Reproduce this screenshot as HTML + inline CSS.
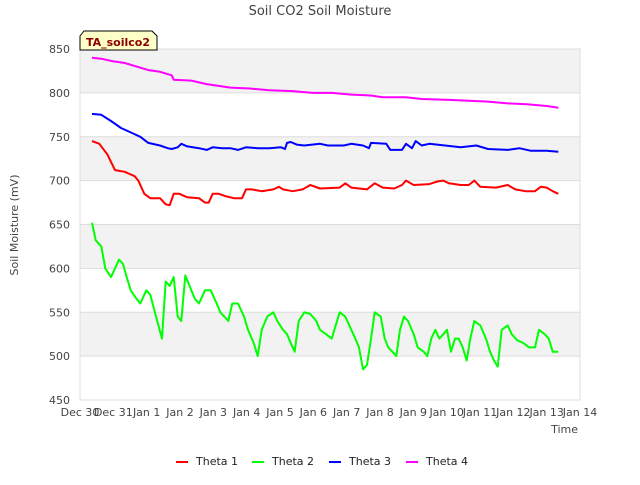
<!DOCTYPE html>
<html><head><meta charset="utf-8"><style>
body{margin:0;background:#fff;font-family:"Liberation Sans","DejaVu Sans",sans-serif;}
svg text{font-family:"DejaVu Sans","Liberation Sans",sans-serif;}
</style></head><body>
<svg id="chart" width="640" height="480" viewBox="0 0 640 480" xmlns="http://www.w3.org/2000/svg">
<rect width="640" height="480" fill="#fff"/>
<text x="320" y="15" text-anchor="middle" font-size="13" fill="#444">Soil CO2 Soil Moisture</text>
<g id="bands"></g>
<g id="grid"></g>
<rect x="80" y="49" width="500" height="351" fill="none" stroke="#ddd"/>
<g id="yticks"></g>
<g id="xticks"></g>
<g id="series"></g>
<text transform="translate(18,225) rotate(-90)" text-anchor="middle" font-size="11" fill="#444">Soil Moisture (mV)</text>
<text x="578" y="433" text-anchor="end" font-size="11" fill="#444">Time</text>
<g>
<path d="M84,31 L152,31 L157,36 L157,50 L80,50 L80,36 Z" fill="#ffffc8" stroke="#000" stroke-width="1"/>
<text x="118" y="46" text-anchor="middle" font-size="11" font-weight="bold" fill="#8b0000">TA_soilco2</text>
</g>
<g id="legend"></g>
</svg>
<script>
const yTicks=[450,500,550,600,650,700,750,800,850];
const xTickLabels=["Dec 30","Dec 31","Jan 1","Jan 2","Jan 3","Jan 4","Jan 5","Jan 6","Jan 7","Jan 8","Jan 9","Jan 10","Jan 11","Jan 12","Jan 13","Jan 14"];
const seriesNames=["Theta 1","Theta 2","Theta 3","Theta 4"];
const seriesColors=["#ff0000","#00ff00","#0000ff","#ff00ff"];
const theta1=[[0.36,745],[0.58,742],[0.82,730],[1.05,712],[1.34,710],[1.64,705],[1.75,700],[1.93,685],[2.11,680],[2.40,680],[2.57,673],[2.69,672],[2.81,685],[2.98,685],[3.22,681],[3.57,680],[3.75,675],[3.86,675],[3.98,685],[4.16,685],[4.39,682],[4.62,680],[4.86,680],[4.98,690],[5.15,690],[5.45,688],[5.80,690],[5.97,693],[6.09,690],[6.38,688],[6.68,690],[6.91,695],[7.20,691],[7.79,692],[7.96,697],[8.14,692],[8.61,690],[8.84,697],[9.08,692],[9.43,691],[9.66,695],[9.78,700],[10.01,695],[10.48,696],[10.72,699],[10.90,700],[11.07,697],[11.42,695],[11.66,695],[11.83,700],[12.01,693],[12.48,692],[12.83,695],[13.06,690],[13.36,688],[13.65,688],[13.82,693],[14.00,692],[14.18,688],[14.35,685]];
const theta2=[[0.36,652],[0.47,632],[0.64,625],[0.76,600],[0.93,590],[1.05,600],[1.17,610],[1.29,605],[1.40,590],[1.52,575],[1.70,565],[1.81,560],[1.99,575],[2.11,570],[2.28,545],[2.46,520],[2.57,585],[2.69,580],[2.81,590],[2.93,545],[3.04,540],[3.16,592],[3.34,575],[3.45,565],[3.57,560],[3.75,575],[3.92,575],[4.10,560],[4.21,550],[4.33,545],[4.45,540],[4.57,560],[4.74,560],[4.92,545],[5.04,530],[5.21,515],[5.33,500],[5.45,530],[5.62,545],[5.80,550],[5.92,540],[6.09,530],[6.21,525],[6.32,515],[6.44,505],[6.56,540],[6.73,550],[6.91,548],[7.09,540],[7.20,530],[7.38,525],[7.55,520],[7.67,535],[7.79,550],[7.96,545],[8.14,530],[8.26,520],[8.37,510],[8.49,485],[8.61,490],[8.73,520],[8.84,550],[9.02,545],[9.14,520],[9.25,510],[9.37,505],[9.49,500],[9.60,530],[9.72,545],[9.84,540],[10.01,525],[10.13,510],[10.31,505],[10.42,500],[10.54,520],[10.66,530],[10.78,520],[10.90,525],[11.01,530],[11.13,505],[11.25,520],[11.36,520],[11.48,510],[11.60,495],[11.71,520],[11.83,540],[12.01,535],[12.18,520],[12.30,505],[12.42,495],[12.53,488],[12.65,530],[12.83,535],[12.95,525],[13.12,518],[13.30,515],[13.47,510],[13.65,510],[13.77,530],[13.94,525],[14.06,520],[14.18,505],[14.35,505]];
const theta3=[[0.36,776],[0.64,775],[0.93,768],[1.23,760],[1.52,755],[1.81,750],[2.05,743],[2.40,740],[2.63,737],[2.75,736],[2.93,738],[3.04,742],[3.22,739],[3.57,737],[3.80,735],[3.98,738],[4.27,737],[4.51,737],[4.74,735],[4.98,738],[5.33,737],[5.68,737],[6.03,738],[6.15,736],[6.21,743],[6.32,744],[6.50,741],[6.73,740],[7.20,742],[7.44,740],[7.91,740],[8.14,742],[8.49,740],[8.67,737],[8.73,743],[9.19,742],[9.31,735],[9.66,735],[9.78,742],[9.96,737],[10.07,745],[10.25,740],[10.48,742],[10.95,740],[11.42,738],[11.89,740],[12.24,736],[12.83,735],[13.18,737],[13.53,734],[14.00,734],[14.35,733]];
const theta4=[[0.36,840],[0.64,839],[0.99,836],[1.34,834],[1.70,830],[2.05,826],[2.40,824],[2.75,820],[2.81,815],[3.34,814],[3.80,810],[4.16,808],[4.51,806],[5.09,805],[5.68,803],[6.38,802],[6.97,800],[7.55,800],[8.14,798],[8.73,797],[9.08,795],[9.78,795],[10.25,793],[11.07,792],[11.66,791],[12.24,790],[12.83,788],[13.41,787],[14.00,785],[14.35,783]];
const allSeries=[theta1,theta2,theta3,theta4];
const NS="http://www.w3.org/2000/svg";
const X0=80,X1=580,Y0=400,Y1=49;
function xs(d){return X0+d*(X1-X0)/15;}
function ys(v){return Y0-(v-450)*(Y0-Y1)/400;}
function mk(tag,attrs,parent){const e=document.createElementNS(NS,tag);for(const k in attrs)e.setAttribute(k,attrs[k]);parent.appendChild(e);return e;}
const bands=document.getElementById('bands'),grid=document.getElementById('grid'),yt=document.getElementById('yticks'),xt=document.getElementById('xticks'),ser=document.getElementById('series'),leg=document.getElementById('legend');
for(let i=0;i<yTicks.length-1;i++){
  if(i%2===1){
    const r=mk('rect',{x:X0,y:ys(yTicks[i+1]),width:X1-X0,height:ys(yTicks[i])-ys(yTicks[i+1]),fill:'#f2f2f2'},bands);
    
    
  }
}
yTicks.forEach(v=>{
  const l=mk('line',{x1:X0,x2:X1,y1:ys(v),y2:ys(v),stroke:'#ddd'},grid);
  
  
  const t=mk('text',{x:X0-10,y:ys(v)+4,'text-anchor':'end','font-size':'11',fill:'#444'},yt);
  t.textContent=v;
  
  
});
xTickLabels.forEach((s,i)=>{
  const t=mk('text',{x:xs(i),y:416,'text-anchor':'middle','font-size':'11',fill:'#444'},xt);
  t.textContent=s;
  
  
});
allSeries.forEach((pts,i)=>{
  const p=mk('polyline',{points:pts.map(q=>xs(q[0]).toFixed(1)+','+ys(q[1]).toFixed(1)).join(' '),fill:'none',stroke:seriesColors[i],'stroke-width':'2','stroke-linejoin':'round'},ser);
  
  
});
const legX=[176,252,329,406];
seriesNames.forEach((n,i)=>{
  const g=mk('g',{},leg);
  
  
  mk('line',{x1:legX[i],x2:legX[i]+12,y1:462,y2:462,stroke:seriesColors[i],'stroke-width':'2'},g);
  const t=mk('text',{x:legX[i]+20,y:465,'font-size':'11',fill:'#222'},g);
  t.textContent=n;
});
</script>
</body></html>
